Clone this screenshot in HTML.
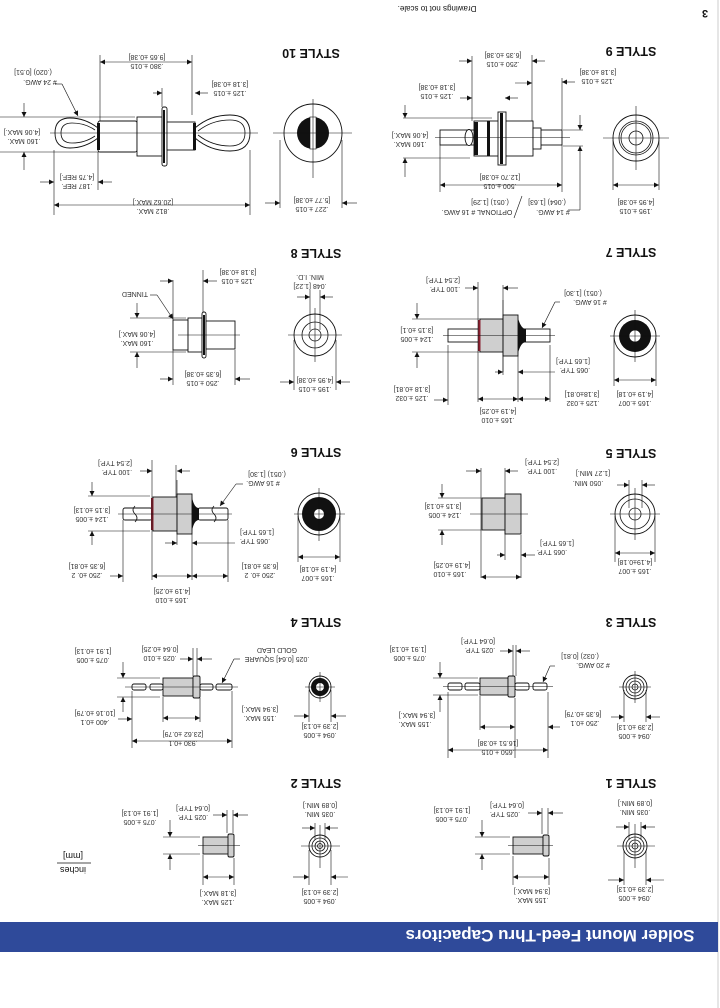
<!DOCTYPE html>
<html><head><meta charset="utf-8"><style>
html,body{margin:0;padding:0;background:#fff}
svg{display:block}
text{font-family:"Liberation Sans",sans-serif;font-size:7px;fill:#333;text-anchor:middle}
.t{font-size:12.5px;font-weight:bold;fill:#111}
.s{stroke:#111;stroke-width:0.8;fill:none}
.b{stroke:#111;stroke-width:0.9;fill:#fff}
.g{stroke:#111;stroke-width:0.9;fill:#cfcfcf}
.k{fill:#111}
.d{stroke:#111;stroke-width:0.6;fill:none}
</style></head><body>
<svg width="720" height="1008" viewBox="0 0 720 1008" xmlns="http://www.w3.org/2000/svg">
<defs><marker id="a" viewBox="0 0 10 10" refX="10" refY="5" markerUnits="userSpaceOnUse" markerWidth="7" markerHeight="5" orient="auto-start-reverse"><path d="M0,0 L10,5 L0,10z" fill="#111"/></marker></defs>
<line x1="718" y1="0" x2="718" y2="1008" stroke="#ccc" stroke-width="1"/>
<!-- banner -->
<rect x="0" y="922" width="718" height="30" fill="#2f4a9a"/>
<text x="550" y="930" transform="rotate(180 550 930)" style="font-size:17px;font-weight:bold;fill:#fff">Solder Mount Feed-Thru Capacitors</text>
<text x="705" y="10" transform="rotate(180 705 10)" style="font-size:11px;font-weight:bold;fill:#111">3</text>
<text x="437" y="6" transform="rotate(180 437 6)" style="font-size:8px;fill:#111">Drawings not to scale.</text>

<!-- titles -->
<text class="t" x="631" y="47" transform="rotate(180 631 47)">STYLE 9</text>
<text class="t" x="631" y="248" transform="rotate(180 631 248)">STYLE 7</text>
<text class="t" x="631" y="449" transform="rotate(180 631 449)">STYLE 5</text>
<text class="t" x="631" y="618" transform="rotate(180 631 618)">STYLE 3</text>
<text class="t" x="631" y="779" transform="rotate(180 631 779)">STYLE 1</text>
<text class="t" x="311" y="49" transform="rotate(180 311 49)">STYLE 10</text>
<text class="t" x="316" y="249" transform="rotate(180 316 249)">STYLE 8</text>
<text class="t" x="316" y="448" transform="rotate(180 316 448)">STYLE 6</text>
<text class="t" x="316" y="618" transform="rotate(180 316 618)">STYLE 4</text>
<text class="t" x="316" y="779" transform="rotate(180 316 779)">STYLE 2</text>

<!-- ===== STYLE 9 ===== -->
<circle class="b" cx="636" cy="138" r="23"/><circle class="s" cx="636" cy="138" r="17"/><circle class="s" cx="636" cy="138" r="15"/><circle class="s" cx="636" cy="138" r="7"/>
<line class="d" x1="603" y1="138" x2="669" y2="138"/><line class="d" x1="636" y1="106" x2="636" y2="170"/>
<line class="d" x1="613" y1="140" x2="613" y2="190"/><line class="d" x1="659" y1="140" x2="659" y2="190"/>
<line class="d" x1="613" y1="185" x2="659" y2="185" marker-start="url(#a)" marker-end="url(#a)"/>
<rect class="b" x="440" y="130" width="122" height="15"/>
<ellipse class="b" cx="469" cy="137.5" rx="4" ry="8"/>
<rect class="b" x="474" y="121" width="59" height="35"/>
<rect class="k" x="474" y="122" width="4" height="33"/><rect class="k" x="487" y="121" width="3" height="35"/>
<rect class="b" x="498" y="112" width="8" height="53"/><rect class="k" x="500" y="113" width="3" height="51"/>
<rect class="b" x="533" y="128" width="8" height="21"/>
<line class="d" x1="435" y1="137.5" x2="570" y2="137.5"/>
<line class="d" x1="472" y1="56" x2="472" y2="121"/><line class="d" x1="532" y1="55" x2="532" y2="121"/><line class="d" x1="562" y1="78" x2="562" y2="130"/>
<line class="d" x1="440" y1="145" x2="440" y2="192"/><line class="d" x1="562" y1="145" x2="562" y2="192"/>
<line class="d" x1="440" y1="185" x2="562" y2="185" marker-start="url(#a)" marker-end="url(#a)"/>
<line class="d" x1="459" y1="61" x2="472" y2="61" marker-end="url(#a)"/><line class="d" x1="545" y1="61" x2="532" y2="61" marker-end="url(#a)"/>
<line class="d" x1="460" y1="98" x2="472" y2="98" marker-end="url(#a)"/><line class="d" x1="518" y1="98" x2="505" y2="98" marker-end="url(#a)"/>
<line class="d" x1="575" y1="82" x2="562" y2="82" marker-end="url(#a)"/><line class="d" x1="515" y1="83" x2="532" y2="83" marker-end="url(#a)"/>
<line class="d" x1="403" y1="118" x2="492" y2="118"/><line class="d" x1="403" y1="158" x2="470" y2="158"/>
<line class="d" x1="405" y1="105" x2="405" y2="118" marker-end="url(#a)"/><line class="d" x1="405" y1="177" x2="405" y2="158" marker-end="url(#a)"/>
<line class="d" x1="563" y1="130" x2="583" y2="130"/><line class="d" x1="563" y1="146" x2="583" y2="146"/>
<line class="d" x1="580" y1="115" x2="580" y2="130" marker-end="url(#a)"/><line class="d" x1="580" y1="210" x2="580" y2="146" marker-end="url(#a)"/>
<line class="d" x1="580" y1="210" x2="568" y2="210"/><line class="d" x1="522" y1="196" x2="514" y2="218"/>
<text x="503" y="53" transform="rotate(180 503 53)">[6.35 ±0.38]</text><text x="503" y="62" transform="rotate(180 503 62)">.250 ±.015</text>
<text x="598" y="70" transform="rotate(180 598 70)">[3.18 ±0.38]</text><text x="598" y="79" transform="rotate(180 598 79)">.125 ±.015</text>
<text x="437" y="85" transform="rotate(180 437 85)">[3.18 ±0.38]</text><text x="437" y="94" transform="rotate(180 437 94)">.125 ±.015</text>
<text x="410" y="133" transform="rotate(180 410 133)">[4.06 MAX.]</text><text x="410" y="142" transform="rotate(180 410 142)">.160 MAX.</text>
<text x="500" y="175" transform="rotate(180 500 175)">[12.70 ±0.38]</text><text x="500" y="184" transform="rotate(180 500 184)">.500 ±.015</text>
<text x="547" y="200" transform="rotate(180 547 200)">(.064) [1.63]</text><text x="553" y="210" transform="rotate(180 553 210)"># 14 AWG.</text>
<text x="490" y="200" transform="rotate(180 490 200)">(.051) [1.29]</text><text x="477" y="210" transform="rotate(180 477 210)">OPTIONAL # 16 AWG.</text>
<text x="636" y="200" transform="rotate(180 636 200)">[4.95 ±0.38]</text><text x="636" y="209" transform="rotate(180 636 209)">.195 ±.015</text>

<!-- ===== STYLE 7 ===== -->
<circle class="b" cx="635" cy="336" r="21"/><circle class="k" cx="635" cy="336" r="16"/><circle cx="635" cy="336" r="6" fill="#fff" stroke="#111" stroke-width=".8"/>
<line class="d" x1="610" y1="336" x2="660" y2="336"/><line class="d" x1="635" y1="310" x2="635" y2="362"/>
<line class="d" x1="614" y1="338" x2="614" y2="386"/><line class="d" x1="656" y1="338" x2="656" y2="386"/>
<line class="d" x1="614" y1="380" x2="656" y2="380" marker-start="url(#a)" marker-end="url(#a)"/>
<rect class="b" x="448" y="329" width="102" height="13"/>
<rect class="g" x="480" y="319" width="23" height="33"/><rect class="g" x="503" y="315" width="15" height="41"/>
<path class="k" d="M518,318 Q521,329 526,329 L526,342 Q521,342 518,353z"/>
<rect x="478" y="320" width="2.5" height="31" fill="#8a2030"/>
<line class="d" x1="443" y1="335.5" x2="555" y2="335.5"/><line class="d" x1="503" y1="300" x2="503" y2="372"/>
<line class="d" x1="478" y1="282" x2="478" y2="402"/><line class="d" x1="503" y1="285" x2="503" y2="375"/><line class="d" x1="518" y1="356" x2="518" y2="402"/>
<line class="d" x1="550" y1="345" x2="550" y2="402"/><line class="d" x1="448" y1="345" x2="448" y2="405"/>
<line class="d" x1="478" y1="399" x2="518" y2="399" marker-start="url(#a)" marker-end="url(#a)"/><line class="d" x1="518" y1="399" x2="550" y2="399" marker-start="url(#a)" marker-end="url(#a)"/>
<line class="d" x1="434" y1="400" x2="448" y2="400" marker-end="url(#a)"/>
<line class="d" x1="465" y1="288" x2="478" y2="288" marker-end="url(#a)"/><line class="d" x1="518" y1="288" x2="503" y2="288" marker-end="url(#a)"/>
<line class="d" x1="495" y1="372" x2="503" y2="372" marker-end="url(#a)"/><line class="d" x1="555" y1="372" x2="518" y2="372" marker-end="url(#a)"/>
<line class="d" x1="412" y1="319" x2="480" y2="319"/><line class="d" x1="412" y1="352" x2="480" y2="352"/>
<line class="d" x1="417" y1="303" x2="417" y2="319" marker-end="url(#a)"/><line class="d" x1="417" y1="368" x2="417" y2="352" marker-end="url(#a)"/>
<line class="d" x1="560" y1="302" x2="555" y2="302"/><line class="d" x1="555" y1="302" x2="542" y2="328" marker-end="url(#a)"/>
<text x="443" y="278" transform="rotate(180 443 278)">[2.54 TYP.]</text><text x="445" y="287" transform="rotate(180 445 287)">.100 TYP.</text>
<text x="583" y="291" transform="rotate(180 583 291)">(.051) [1.30]</text><text x="590" y="300" transform="rotate(180 590 300)"># 16 AWG.</text>
<text x="417" y="328" transform="rotate(180 417 328)">[3.15 ±0.1]</text><text x="417" y="337" transform="rotate(180 417 337)">.124 ±.005</text>
<text x="573" y="359" transform="rotate(180 573 359)">[1.65 TYP.]</text><text x="575" y="368" transform="rotate(180 575 368)">.065 TYP.</text>
<text x="412" y="387" transform="rotate(180 412 387)">[3.18 ±0.81]</text><text x="412" y="396" transform="rotate(180 412 396)">.125 ±.032</text>
<text x="582" y="392" transform="rotate(180 582 392)">[3.18±0.81]</text><text x="583" y="401" transform="rotate(180 583 401)">.125 ±.032</text>
<text x="498" y="409" transform="rotate(180 498 409)">[4.19 ±0.25]</text><text x="498" y="418" transform="rotate(180 498 418)">.165 ±.010</text>
<text x="635" y="392" transform="rotate(180 635 392)">[4.19 ±0.18]</text><text x="635" y="401" transform="rotate(180 635 401)">.165 ±.007</text>

<!-- ===== STYLE 5 ===== -->
<circle class="b" cx="635" cy="514" r="20"/><circle class="s" cx="635" cy="514" r="15"/><circle class="s" cx="635" cy="514" r="6"/>
<line class="d" x1="610" y1="514" x2="660" y2="514"/><line class="d" x1="635" y1="488" x2="635" y2="540"/>
<line class="d" x1="615" y1="516" x2="615" y2="562"/><line class="d" x1="655" y1="516" x2="655" y2="562"/>
<line class="d" x1="615" y1="553" x2="655" y2="553" marker-start="url(#a)" marker-end="url(#a)"/>
<line class="d" x1="629" y1="480" x2="629" y2="508"/><line class="d" x1="642" y1="480" x2="642" y2="508"/>
<line class="d" x1="617" y1="485" x2="629" y2="485" marker-end="url(#a)"/><line class="d" x1="655" y1="485" x2="642" y2="485" marker-end="url(#a)"/>
<rect class="g" x="482" y="498" width="23" height="32"/><rect class="g" x="505" y="494" width="16" height="40"/>
<line class="d" x1="470" y1="514" x2="528" y2="514"/>
<line class="d" x1="481" y1="468" x2="481" y2="578"/><line class="d" x1="505" y1="468" x2="505" y2="560"/><line class="d" x1="521" y1="535" x2="521" y2="578"/>
<line class="d" x1="466" y1="471" x2="481" y2="471" marker-end="url(#a)"/><line class="d" x1="518" y1="471" x2="505" y2="471" marker-end="url(#a)"/>
<line class="d" x1="497" y1="555" x2="505" y2="555" marker-end="url(#a)"/><line class="d" x1="535" y1="555" x2="521" y2="555" marker-end="url(#a)"/>
<line class="d" x1="481" y1="577" x2="521" y2="577" marker-start="url(#a)" marker-end="url(#a)"/>
<line class="d" x1="438" y1="498" x2="481" y2="498"/><line class="d" x1="438" y1="530" x2="481" y2="530"/>
<line class="d" x1="442" y1="484" x2="442" y2="498" marker-end="url(#a)"/><line class="d" x1="442" y1="545" x2="442" y2="530" marker-end="url(#a)"/>
<text x="542" y="460" transform="rotate(180 542 460)">[2.54 TYP.]</text><text x="542" y="469" transform="rotate(180 542 469)">.100 TYP.</text>
<text x="593" y="471" transform="rotate(180 593 471)">[1.27 MIN.]</text><text x="588" y="481" transform="rotate(180 588 481)">.050 MIN.</text>
<text x="443" y="504" transform="rotate(180 443 504)">[3.15 ±0.13]</text><text x="445" y="513" transform="rotate(180 445 513)">.124 ±.005</text>
<text x="557" y="541" transform="rotate(180 557 541)">[1.65 TYP.]</text><text x="552" y="550" transform="rotate(180 552 550)">.065 TYP.</text>
<text x="452" y="563" transform="rotate(180 452 563)">[4.19 ±0.25]</text><text x="450" y="572" transform="rotate(180 450 572)">.165 ±.010</text>
<text x="635" y="560" transform="rotate(180 635 560)">[4.19±0.18]</text><text x="635" y="569" transform="rotate(180 635 569)">.165 ±.007</text>

<!-- ===== STYLE 3 ===== -->
<circle class="b" cx="635" cy="687" r="12"/><circle class="s" cx="635" cy="687" r="9"/><circle class="s" cx="635" cy="687" r="6"/><circle class="s" cx="635" cy="687" r="3"/>
<line class="d" x1="619" y1="687" x2="651" y2="687"/><line class="d" x1="635" y1="671" x2="635" y2="703"/>
<line class="d" x1="624" y1="690" x2="624" y2="722"/><line class="d" x1="646" y1="690" x2="646" y2="722"/>
<line class="d" x1="611" y1="717" x2="624" y2="717" marker-end="url(#a)"/><line class="d" x1="660" y1="717" x2="646" y2="717" marker-end="url(#a)"/>
<rect class="b" x="448" y="683" width="14" height="7" rx="2"/><rect class="b" x="465" y="683" width="15" height="7" rx="2"/>
<rect class="b" x="515" y="683" width="14" height="7" rx="2"/><rect class="b" x="533" y="683" width="14" height="7" rx="2"/>
<rect class="g" x="480" y="678" width="28" height="17"/><rect class="g" x="508" y="676" width="7" height="21" rx="1.5"/>
<line class="d" x1="443" y1="686.5" x2="553" y2="686.5"/>
<line class="d" x1="513" y1="645" x2="513" y2="676"/><line class="d" x1="516" y1="645" x2="516" y2="676"/>
<line class="d" x1="500" y1="651" x2="513" y2="651" marker-end="url(#a)"/><line class="d" x1="530" y1="651" x2="516" y2="651" marker-end="url(#a)"/>
<line class="d" x1="480" y1="696" x2="480" y2="730"/><line class="d" x1="515" y1="698" x2="515" y2="758"/><line class="d" x1="448" y1="692" x2="448" y2="758"/><line class="d" x1="548" y1="692" x2="548" y2="758"/>
<line class="d" x1="480" y1="727" x2="515" y2="727" marker-start="url(#a)" marker-end="url(#a)"/>
<line class="d" x1="448" y1="750" x2="548" y2="750" marker-start="url(#a)" marker-end="url(#a)"/>
<line class="d" x1="560" y1="727" x2="548" y2="727" marker-end="url(#a)"/>
<line class="d" x1="433" y1="678" x2="478" y2="678"/><line class="d" x1="433" y1="695" x2="478" y2="695"/>
<line class="d" x1="440" y1="662" x2="440" y2="678" marker-end="url(#a)"/><line class="d" x1="440" y1="712" x2="440" y2="695" marker-end="url(#a)"/>
<line class="d" x1="555" y1="666" x2="550" y2="666"/><line class="d" x1="550" y1="666" x2="543" y2="682" marker-end="url(#a)"/>
<text x="478" y="639" transform="rotate(180 478 639)">[0.64 TYP.]</text><text x="480" y="648" transform="rotate(180 480 648)">.025 TYP.</text>
<text x="408" y="647" transform="rotate(180 408 647)">[1.91 ±0.13]</text><text x="410" y="656" transform="rotate(180 410 656)">.075 ±.005</text>
<text x="580" y="654" transform="rotate(180 580 654)">(.032) [0.81]</text><text x="593" y="663" transform="rotate(180 593 663)"># 20 AWG.</text>
<text x="417" y="713" transform="rotate(180 417 713)">[3.94 MAX.]</text><text x="415" y="722" transform="rotate(180 415 722)">.155 MAX.</text>
<text x="583" y="712" transform="rotate(180 583 712)">[6.35 ±0.79]</text><text x="585" y="721" transform="rotate(180 585 721)">.250 ±0.1</text>
<text x="635" y="725" transform="rotate(180 635 725)">[2.39 ±0.13]</text><text x="635" y="734" transform="rotate(180 635 734)">.094 ±.005</text>
<text x="498" y="741" transform="rotate(180 498 741)">[16.51 ±0.38]</text><text x="498" y="750" transform="rotate(180 498 750)">.650 ±.015</text>

<!-- ===== STYLE 1 ===== -->
<circle class="b" cx="635" cy="846" r="12"/><circle class="s" cx="635" cy="846" r="9"/><circle class="s" cx="635" cy="846" r="6"/><circle class="s" cx="635" cy="846" r="3"/>
<line class="d" x1="617" y1="846" x2="655" y2="846"/><line class="d" x1="635" y1="824" x2="635" y2="868"/>
<line class="d" x1="629" y1="822" x2="629" y2="840"/><line class="d" x1="641" y1="822" x2="641" y2="840"/>
<line class="d" x1="616" y1="827" x2="629" y2="827" marker-end="url(#a)"/><line class="d" x1="655" y1="827" x2="641" y2="827" marker-end="url(#a)"/>
<line class="d" x1="624" y1="850" x2="624" y2="885"/><line class="d" x1="646" y1="850" x2="646" y2="885"/>
<line class="d" x1="608" y1="880" x2="624" y2="880" marker-end="url(#a)"/><line class="d" x1="664" y1="880" x2="646" y2="880" marker-end="url(#a)"/>
<rect class="g" x="513" y="837" width="30" height="17"/><rect class="g" x="543" y="835" width="6" height="21" rx="1.5"/>
<line class="d" x1="508" y1="845.5" x2="553" y2="845.5"/>
<line class="d" x1="542" y1="808" x2="542" y2="834"/><line class="d" x1="548" y1="808" x2="548" y2="834"/>
<line class="d" x1="528" y1="813" x2="542" y2="813" marker-end="url(#a)"/><line class="d" x1="563" y1="813" x2="548" y2="813" marker-end="url(#a)"/>
<line class="d" x1="513" y1="856" x2="513" y2="885"/><line class="d" x1="549" y1="858" x2="549" y2="885"/>
<line class="d" x1="513" y1="877" x2="549" y2="877" marker-start="url(#a)" marker-end="url(#a)"/>
<line class="d" x1="475" y1="837" x2="510" y2="837"/><line class="d" x1="475" y1="854" x2="510" y2="854"/>
<line class="d" x1="482" y1="820" x2="482" y2="837" marker-end="url(#a)"/><line class="d" x1="482" y1="870" x2="482" y2="854" marker-end="url(#a)"/>
<text x="507" y="803" transform="rotate(180 507 803)">[0.64 TYP.]</text><text x="505" y="812" transform="rotate(180 505 812)">.025 TYP.</text>
<text x="452" y="808" transform="rotate(180 452 808)">[1.91 ±0.13]</text><text x="452" y="817" transform="rotate(180 452 817)">.075 ±.005</text>
<text x="635" y="801" transform="rotate(180 635 801)">[0.89 MIN.]</text><text x="635" y="810" transform="rotate(180 635 810)">.035 MIN.</text>
<text x="532" y="889" transform="rotate(180 532 889)">[3.94 MAX.]</text><text x="532" y="898" transform="rotate(180 532 898)">.155 MAX.</text>
<text x="635" y="887" transform="rotate(180 635 887)">[2.39 ±0.13]</text><text x="635" y="896" transform="rotate(180 635 896)">.094 ±.005</text>

<!-- ===== STYLE 10 ===== -->
<circle class="b" cx="313" cy="133" r="29"/><circle class="k" cx="313" cy="133" r="16"/><rect x="310" y="117" width="6" height="32" fill="#fff" stroke="#111" stroke-width=".6"/>
<line class="d" x1="273" y1="133" x2="352" y2="133"/><line class="d" x1="313" y1="99" x2="313" y2="178"/>
<line class="d" x1="280" y1="140" x2="280" y2="208"/><line class="d" x1="342" y1="140" x2="342" y2="208"/>
<line class="d" x1="265" y1="203" x2="280" y2="203" marker-end="url(#a)"/><line class="d" x1="357" y1="203" x2="342" y2="203" marker-end="url(#a)"/>
<path class="b" d="M98,128 Q85,118 70,118 Q55,118 55,133 Q55,148 70,148 Q85,148 98,138z"/>
<path class="s" d="M95,130 Q85,123 72,123 Q61,123 61,133 Q61,143 72,143 Q85,143 95,136"/>
<path class="b" d="M195,128 Q210,115 230,115 Q250,115 250,133 Q250,151 230,151 Q210,151 195,138z"/>
<path class="s" d="M198,131 Q212,120 230,120 Q245,120 245,133 Q245,146 230,146 Q212,146 198,135"/>
<rect class="b" x="98" y="121" width="39" height="31" rx="2"/><rect class="b" x="137" y="117" width="25" height="39"/>
<rect class="b" x="162" y="107" width="5" height="59" rx="2"/><rect class="b" x="167" y="122" width="28" height="28"/>
<rect class="k" x="97" y="123" width="3" height="27"/><rect class="k" x="193" y="123" width="3" height="27"/><rect class="k" x="163" y="110" width="2" height="53"/>
<line class="d" x1="50" y1="133" x2="258" y2="133"/>
<line class="d" x1="100" y1="55" x2="100" y2="121"/><line class="d" x1="192" y1="55" x2="192" y2="115"/>
<line class="d" x1="100" y1="62" x2="192" y2="62" marker-start="url(#a)" marker-end="url(#a)"/>
<line class="d" x1="159" y1="93" x2="162" y2="93"/><line class="d" x1="153" y1="93" x2="162" y2="93" marker-end="url(#a)"/><line class="d" x1="162" y1="88" x2="162" y2="107"/>
<line class="d" x1="208" y1="93" x2="195" y2="93" marker-end="url(#a)"/>
<line class="d" x1="0" y1="117" x2="135" y2="117"/><line class="d" x1="0" y1="152" x2="100" y2="152"/>
<line class="d" x1="24" y1="103" x2="24" y2="117" marker-end="url(#a)"/><line class="d" x1="24" y1="170" x2="24" y2="152" marker-end="url(#a)"/>
<line class="d" x1="54" y1="150" x2="54" y2="215"/><line class="d" x1="98" y1="152" x2="98" y2="190"/><line class="d" x1="250" y1="150" x2="250" y2="215"/>
<line class="d" x1="40" y1="182" x2="54" y2="182" marker-end="url(#a)"/><line class="d" x1="112" y1="182" x2="98" y2="182" marker-end="url(#a)"/>
<line class="d" x1="54" y1="205" x2="250" y2="205" marker-start="url(#a)" marker-end="url(#a)"/>
<line class="d" x1="62" y1="84" x2="55" y2="84"/><line class="d" x1="62" y1="84" x2="78" y2="116" marker-end="url(#a)"/>
<text x="147" y="55" transform="rotate(180 147 55)">[9.65 ±0.38]</text><text x="147" y="64" transform="rotate(180 147 64)">.380 ±.015</text>
<text x="230" y="82" transform="rotate(180 230 82)">[3.18 ±0.38]</text><text x="230" y="91" transform="rotate(180 230 91)">.125 ±.015</text>
<text x="33" y="70" transform="rotate(180 33 70)">(.020) [0.51]</text><text x="40" y="80" transform="rotate(180 40 80)"># 24 AWG.</text>
<text x="22" y="130" transform="rotate(180 22 130)">[4.06 MAX.]</text><text x="24" y="139" transform="rotate(180 24 139)">.160 MAX.</text>
<text x="77" y="175" transform="rotate(180 77 175)">[4.75 REF.]</text><text x="77" y="184" transform="rotate(180 77 184)">.187 REF.</text>
<text x="153" y="200" transform="rotate(180 153 200)">[20.62 MAX.]</text><text x="153" y="209" transform="rotate(180 153 209)">.812 MAX.</text>
<text x="312" y="198" transform="rotate(180 312 198)">[5.77 ±0.38]</text><text x="312" y="207" transform="rotate(180 312 207)">.227 ±.015</text>

<!-- ===== STYLE 8 ===== -->
<circle class="b" cx="315" cy="335" r="21"/><circle class="s" cx="315" cy="335" r="13"/><circle class="s" cx="315" cy="335" r="6"/>
<line class="d" x1="288" y1="335" x2="342" y2="335"/><line class="d" x1="315" y1="308" x2="315" y2="362"/>
<line class="d" x1="310" y1="290" x2="310" y2="330"/><line class="d" x1="320" y1="290" x2="320" y2="330"/>
<line class="d" x1="297" y1="297" x2="310" y2="297" marker-end="url(#a)"/><line class="d" x1="333" y1="297" x2="320" y2="297" marker-end="url(#a)"/>
<line class="d" x1="294" y1="340" x2="294" y2="390"/><line class="d" x1="336" y1="340" x2="336" y2="390"/>
<line class="d" x1="280" y1="382" x2="294" y2="382" marker-end="url(#a)"/><line class="d" x1="350" y1="382" x2="336" y2="382" marker-end="url(#a)"/>
<rect class="b" x="173" y="320" width="15" height="30"/><rect class="b" x="188" y="318" width="14" height="34"/>
<rect class="b" x="202" y="312" width="4" height="46" rx="2"/><rect class="k" x="203" y="315" width="2" height="40"/>
<rect class="b" x="206" y="321" width="29" height="28"/>
<line class="d" x1="178" y1="335" x2="240" y2="335"/><line class="d" x1="188" y1="320" x2="188" y2="350"/>
<line class="d" x1="173" y1="280" x2="173" y2="320"/><line class="d" x1="203" y1="270" x2="203" y2="312"/><line class="d" x1="173" y1="350" x2="173" y2="385"/><line class="d" x1="235" y1="350" x2="235" y2="385"/>
<line class="d" x1="160" y1="281" x2="173" y2="281" marker-end="url(#a)"/><line class="d" x1="217" y1="281" x2="203" y2="281" marker-end="url(#a)"/>
<line class="d" x1="160" y1="379" x2="173" y2="379" marker-end="url(#a)"/><line class="d" x1="250" y1="379" x2="235" y2="379" marker-end="url(#a)"/>
<line class="d" x1="130" y1="318" x2="186" y2="318"/><line class="d" x1="130" y1="352" x2="186" y2="352"/>
<line class="d" x1="137" y1="303" x2="137" y2="318" marker-end="url(#a)"/><line class="d" x1="137" y1="368" x2="137" y2="352" marker-end="url(#a)"/>
<line class="d" x1="150" y1="295" x2="157" y2="295"/><line class="d" x1="157" y1="295" x2="173" y2="319" marker-end="url(#a)"/>
<text x="238" y="270" transform="rotate(180 238 270)">[3.18 ±0.38]</text><text x="238" y="279" transform="rotate(180 238 279)">.125 ±.015</text>
<text x="310" y="275" transform="rotate(180 310 275)">MIN. I.D.</text><text x="310" y="284" transform="rotate(180 310 284)">.048 [1.22]</text>
<text x="135" y="292" transform="rotate(180 135 292)">TINNED</text>
<text x="137" y="332" transform="rotate(180 137 332)">[4.06 MAX.]</text><text x="137" y="341" transform="rotate(180 137 341)">.160 MAX.</text>
<text x="203" y="372" transform="rotate(180 203 372)">[6.35 ±0.38]</text><text x="203" y="381" transform="rotate(180 203 381)">.250 ±.015</text>
<text x="315" y="378" transform="rotate(180 315 378)">[4.95 ±0.38]</text><text x="315" y="387" transform="rotate(180 315 387)">.195 ±.015</text>

<!-- ===== STYLE 6 ===== -->
<circle class="b" cx="319" cy="514" r="21"/><circle class="k" cx="319" cy="514" r="17"/><circle cx="319" cy="514" r="5" fill="#fff"/>
<line class="d" x1="294" y1="514" x2="345" y2="514"/><line class="d" x1="319" y1="488" x2="319" y2="541"/>
<line class="d" x1="298" y1="516" x2="298" y2="562"/><line class="d" x1="340" y1="516" x2="340" y2="562"/>
<line class="d" x1="298" y1="557" x2="340" y2="557" marker-start="url(#a)" marker-end="url(#a)"/>
<rect class="b" x="123" y="508" width="29" height="12" rx="2"/><rect class="b" x="198" y="508" width="30" height="12" rx="2"/>
<path class="s" d="M135,506 q-4,4 0,8 q4,4 0,8 M214,506 q-4,4 0,8 q4,4 0,8"/>
<rect class="g" x="153" y="497" width="24" height="34"/><rect class="g" x="177" y="494" width="15" height="40"/>
<path class="k" d="M192,497 Q194,508 199,508 L199,520 Q194,520 192,531z"/>
<rect x="151" y="498" width="2.5" height="32" fill="#8a2030"/>
<line class="d" x1="118" y1="514" x2="232" y2="514"/><line class="d" x1="177" y1="480" x2="177" y2="545"/>
<line class="d" x1="152" y1="460" x2="152" y2="580"/><line class="d" x1="176" y1="465" x2="176" y2="497"/><line class="d" x1="192" y1="534" x2="192" y2="580"/>
<line class="d" x1="123" y1="520" x2="123" y2="582"/><line class="d" x1="228" y1="520" x2="228" y2="582"/>
<line class="d" x1="140" y1="471" x2="152" y2="471" marker-end="url(#a)"/><line class="d" x1="190" y1="471" x2="177" y2="471" marker-end="url(#a)"/>
<line class="d" x1="165" y1="543" x2="177" y2="543" marker-end="url(#a)"/><line class="d" x1="235" y1="543" x2="192" y2="543" marker-end="url(#a)"/>
<line class="d" x1="152" y1="576" x2="192" y2="576" marker-start="url(#a)" marker-end="url(#a)"/><line class="d" x1="192" y1="576" x2="228" y2="576" marker-start="url(#a)" marker-end="url(#a)"/>
<line class="d" x1="110" y1="576" x2="123" y2="576" marker-end="url(#a)"/>
<line class="d" x1="88" y1="496" x2="150" y2="496"/><line class="d" x1="88" y1="531" x2="150" y2="531"/>
<line class="d" x1="92" y1="482" x2="92" y2="496" marker-end="url(#a)"/><line class="d" x1="92" y1="545" x2="92" y2="531" marker-end="url(#a)"/>
<line class="d" x1="243" y1="484" x2="236" y2="484"/><line class="d" x1="236" y1="484" x2="220" y2="506" marker-end="url(#a)"/>
<text x="115" y="461" transform="rotate(180 115 461)">[2.54 TYP.]</text><text x="117" y="470" transform="rotate(180 117 470)">.100 TYP.</text>
<text x="267" y="472" transform="rotate(180 267 472)">(.051) [1.30]</text><text x="263" y="481" transform="rotate(180 263 481)"># 16 AWG.</text>
<text x="92" y="508" transform="rotate(180 92 508)">[3.15 ±0.13]</text><text x="92" y="517" transform="rotate(180 92 517)">.124 ±.005</text>
<text x="257" y="530" transform="rotate(180 257 530)">[1.65 TYP.]</text><text x="255" y="539" transform="rotate(180 255 539)">.065 TYP.</text>
<text x="87" y="564" transform="rotate(180 87 564)">[6.35 ±0.81]</text><text x="87" y="573" transform="rotate(180 87 573)">.250 ±0. 2</text>
<text x="260" y="564" transform="rotate(180 260 564)">[6.35 ±0.81]</text><text x="260" y="573" transform="rotate(180 260 573)">.250 ±0. 2</text>
<text x="318" y="567" transform="rotate(180 318 567)">[4.19 ±0.18]</text><text x="318" y="576" transform="rotate(180 318 576)">.165 ±.007</text>
<text x="172" y="589" transform="rotate(180 172 589)">[4.19 ±0.25]</text><text x="172" y="598" transform="rotate(180 172 598)">.165 ±.010</text>

<!-- ===== STYLE 4 ===== -->
<circle class="b" cx="320" cy="687" r="11"/><circle class="k" cx="320" cy="687" r="9"/><circle cx="320" cy="687" r="4" fill="#fff"/>
<line class="d" x1="305" y1="687" x2="335" y2="687"/><line class="d" x1="320" y1="672" x2="320" y2="702"/>
<line class="d" x1="309" y1="690" x2="309" y2="722"/><line class="d" x1="331" y1="690" x2="331" y2="722"/>
<line class="d" x1="294" y1="716" x2="309" y2="716" marker-end="url(#a)"/><line class="d" x1="346" y1="716" x2="331" y2="716" marker-end="url(#a)"/>
<rect class="b" x="132" y="684" width="14" height="6" rx="2"/><rect class="b" x="150" y="684" width="13" height="6" rx="2"/>
<rect class="b" x="200" y="684" width="13" height="6" rx="2"/><rect class="b" x="216" y="684" width="16" height="6" rx="2"/>
<rect class="g" x="163" y="678" width="30" height="18"/><rect class="g" x="193" y="676" width="7" height="22" rx="1.5"/>
<line class="d" x1="125" y1="687" x2="238" y2="687"/>
<line class="d" x1="193" y1="648" x2="193" y2="676"/><line class="d" x1="197" y1="648" x2="197" y2="676"/>
<line class="d" x1="180" y1="659" x2="193" y2="659" marker-end="url(#a)"/><line class="d" x1="212" y1="659" x2="197" y2="659" marker-end="url(#a)"/>
<line class="d" x1="163" y1="697" x2="163" y2="722"/><line class="d" x1="200" y1="698" x2="200" y2="722"/>
<line class="d" x1="163" y1="718" x2="200" y2="718" marker-start="url(#a)" marker-end="url(#a)"/>
<line class="d" x1="132" y1="691" x2="132" y2="748"/><line class="d" x1="232" y1="691" x2="232" y2="748"/>
<line class="d" x1="132" y1="741" x2="232" y2="741" marker-start="url(#a)" marker-end="url(#a)"/>
<line class="d" x1="118" y1="719" x2="132" y2="719" marker-end="url(#a)"/>
<line class="d" x1="117" y1="678" x2="160" y2="678"/><line class="d" x1="117" y1="697" x2="160" y2="697"/>
<line class="d" x1="123" y1="662" x2="123" y2="678" marker-end="url(#a)"/><line class="d" x1="123" y1="712" x2="123" y2="697" marker-end="url(#a)"/>
<line class="d" x1="240" y1="659" x2="234" y2="659"/><line class="d" x1="234" y1="659" x2="222" y2="683" marker-end="url(#a)"/>
<text x="277" y="648" transform="rotate(180 277 648)">GOLD LEAD</text><text x="277" y="657" transform="rotate(180 277 657)">.025 [0.64] SQUARE</text>
<text x="160" y="647" transform="rotate(180 160 647)">[0.64 ±0.25]</text><text x="160" y="656" transform="rotate(180 160 656)">.025 ±.010</text>
<text x="93" y="649" transform="rotate(180 93 649)">[1.91 ±0.13]</text><text x="93" y="658" transform="rotate(180 93 658)">.075 ±.005</text>
<text x="260" y="707" transform="rotate(180 260 707)">[3.94 MAX.]</text><text x="260" y="716" transform="rotate(180 260 716)">.155 MAX.</text>
<text x="95" y="711" transform="rotate(180 95 711)">[10.16 ±0.79]</text><text x="95" y="720" transform="rotate(180 95 720)">.400 ±0.1</text>
<text x="320" y="724" transform="rotate(180 320 724)">[2.39 ±0.13]</text><text x="320" y="733" transform="rotate(180 320 733)">.094 ±.005</text>
<text x="183" y="732" transform="rotate(180 183 732)">[23.62 ±0.79]</text><text x="183" y="741" transform="rotate(180 183 741)">.930 ±0.1</text>

<!-- ===== STYLE 2 ===== -->
<circle class="b" cx="320" cy="846" r="11"/><circle class="s" cx="320" cy="846" r="8"/><circle class="s" cx="320" cy="846" r="5"/><circle class="s" cx="320" cy="846" r="2.5"/>
<line class="d" x1="301" y1="846" x2="340" y2="846"/><line class="d" x1="320" y1="825" x2="320" y2="868"/>
<line class="d" x1="315" y1="823" x2="315" y2="840"/><line class="d" x1="325" y1="823" x2="325" y2="840"/>
<line class="d" x1="302" y1="828" x2="315" y2="828" marker-end="url(#a)"/><line class="d" x1="338" y1="828" x2="325" y2="828" marker-end="url(#a)"/>
<line class="d" x1="309" y1="850" x2="309" y2="885"/><line class="d" x1="331" y1="850" x2="331" y2="885"/>
<line class="d" x1="293" y1="877" x2="309" y2="877" marker-end="url(#a)"/><line class="d" x1="348" y1="877" x2="331" y2="877" marker-end="url(#a)"/>
<rect class="g" x="203" y="837" width="26" height="17"/><rect class="g" x="228" y="834" width="6" height="23" rx="1.5"/>
<line class="d" x1="198" y1="845.5" x2="240" y2="845.5"/>
<line class="d" x1="227" y1="810" x2="227" y2="833"/><line class="d" x1="233" y1="810" x2="233" y2="833"/>
<line class="d" x1="213" y1="815" x2="227" y2="815" marker-end="url(#a)"/><line class="d" x1="248" y1="815" x2="233" y2="815" marker-end="url(#a)"/>
<line class="d" x1="203" y1="855" x2="203" y2="885"/><line class="d" x1="234" y1="858" x2="234" y2="885"/>
<line class="d" x1="203" y1="877" x2="234" y2="877" marker-start="url(#a)" marker-end="url(#a)"/>
<line class="d" x1="163" y1="837" x2="200" y2="837"/><line class="d" x1="163" y1="854" x2="200" y2="854"/>
<line class="d" x1="170" y1="820" x2="170" y2="837" marker-end="url(#a)"/><line class="d" x1="170" y1="870" x2="170" y2="854" marker-end="url(#a)"/>
<text x="320" y="803" transform="rotate(180 320 803)">[0.89 MIN.]</text><text x="320" y="812" transform="rotate(180 320 812)">.035 MIN.</text>
<text x="193" y="806" transform="rotate(180 193 806)">[0.64 TYP.]</text><text x="193" y="815" transform="rotate(180 193 815)">.025 TYP.</text>
<text x="140" y="811" transform="rotate(180 140 811)">[1.91 ±0.13]</text><text x="140" y="820" transform="rotate(180 140 820)">.075 ±.005</text>
<text x="218" y="891" transform="rotate(180 218 891)">[3.18 MAX.]</text><text x="218" y="900" transform="rotate(180 218 900)">.125 MAX.</text>
<text x="320" y="890" transform="rotate(180 320 890)">[2.39 ±0.13]</text><text x="320" y="899" transform="rotate(180 320 899)">.094 ±.005</text>

<!-- legend -->
<text x="73" y="853" transform="rotate(180 73 853)" style="font-size:9px;fill:#111">[mm]</text>
<line x1="57" y1="863" x2="91" y2="863" stroke="#111" stroke-width=".8"/>
<text x="73" y="867" transform="rotate(180 73 867)" style="font-size:9px;fill:#111">inches</text>
</svg>
</body></html>
